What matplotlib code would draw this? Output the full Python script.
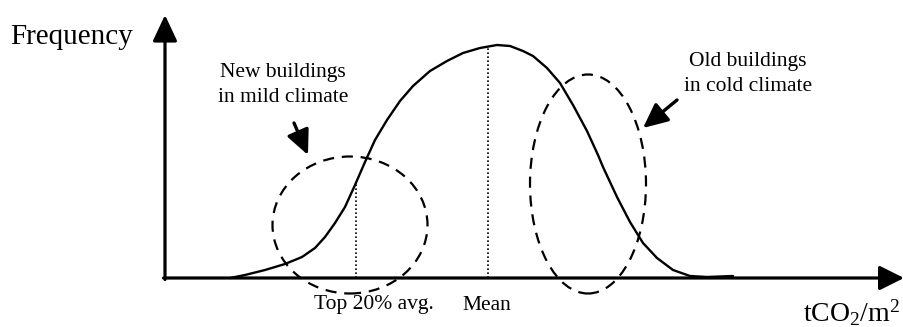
import matplotlib
matplotlib.use('Agg')
import matplotlib.pyplot as plt
from matplotlib.patches import Ellipse

# Schematic: frequency distribution of building emissions (tCO2/m2).
matplotlib.rcParams['font.family'] = ['Liberation Serif', 'DejaVu Serif']
matplotlib.rcParams['mathtext.fontset'] = 'custom'
matplotlib.rcParams['mathtext.rm'] = 'Liberation Serif'
matplotlib.rcParams['mathtext.it'] = 'Liberation Serif:italic'

######## DATA (origin at the axes corner) ########
curve_x = [65, 80, 100, 120, 137, 150, 160, 170, 180, 190, 200, 210, 222,
           235, 248, 265, 282, 298, 315, 332, 345, 358, 368, 382, 395, 408,
           422, 433, 438, 452, 465, 478, 492, 508, 525, 542, 568]
curve_y = [0, 3, 8, 14, 21, 30, 41, 55, 71, 93, 116, 138, 158,
           177, 192, 207, 217, 225, 230, 233, 232, 227, 222, 210, 195, 173,
           147, 123, 111, 81, 56, 35, 20, 8, 2, 1, 2]

mean_x, mean_y = 323, 232
top20_x, top20_y = 191, 95

# groups: (center x, center y, width, height)
new_group = (185, 53, 155, 137)
old_group = (423, 94, 116, 219)

x_labels = ['Top 20% avg.', 'Mean']
x_label_pos = [209, 322]
########################################################################

fig = plt.figure(figsize=(9.04, 3.27), dpi=100)
ax = fig.add_axes([0, 0, 1, 1])
ax.set_xlim(-165, 739)
ax.set_ylim(-49, 278)
ax.axis('off')

# axes with arrow heads
ax.annotate('', xy=(0, 263), xytext=(0, -1.5),
            arrowprops=dict(arrowstyle='-|>,head_length=1.6,head_width=0.75',
                            lw=2.3, color='k', shrinkA=0, shrinkB=0))
ax.annotate('', xy=(739, 0), xytext=(-1.5, 0),
            arrowprops=dict(arrowstyle='-|>,head_length=1.5,head_width=0.75',
                            lw=2.3, color='k', shrinkA=0, shrinkB=0))

# distribution curve
ax.plot(curve_x, curve_y, c='k', lw=1.7, solid_capstyle='round',
        solid_joinstyle='round')

# reference lines
ax.plot([mean_x, mean_x], [0, mean_y], c='k', lw=1.2, ls=(0, (1, 1.4)))
ax.plot([top20_x, top20_x], [0, top20_y], c='k', lw=1.2, ls=(0, (1, 1.4)))

# dashed group outlines
for cx, cy, w, h in (new_group, old_group):
    ax.add_patch(Ellipse((cx, cy), w, h, fill=False, ec='k', lw=1.6,
                         ls=(0, (5, 3.5))))

# pointer arrows
arrow_kw = dict(arrowstyle='-|>,head_length=1.5,head_width=0.7',
                lw=2.4, color='k', shrinkA=0, shrinkB=0)
ax.annotate('', xy=(143, 123), xytext=(129, 155), arrowprops=arrow_kw)
ax.annotate('', xy=(478, 150), xytext=(512, 178), arrowprops=arrow_kw)

# texts
ax.text(-155, 241, 'Frequency', fontsize=21, ha='left', va='center')
ax.text(118, 193, 'New buildings\nin mild climate', fontsize=15.5,
        ha='center', va='center', linespacing=1.4)
ax.text(583, 204, 'Old buildings\nin cold climate', fontsize=15.5,
        ha='center', va='center', linespacing=1.4)
for lab, xp in zip(x_labels, x_label_pos):
    ax.text(xp, -27, lab, fontsize=15.5, ha='center', va='center')
ax.text(687, -44, r'$\mathrm{tCO_2/m^2}$', fontsize=20, ha='center',
        va='baseline')

fig.savefig('out.png', dpi=100)
